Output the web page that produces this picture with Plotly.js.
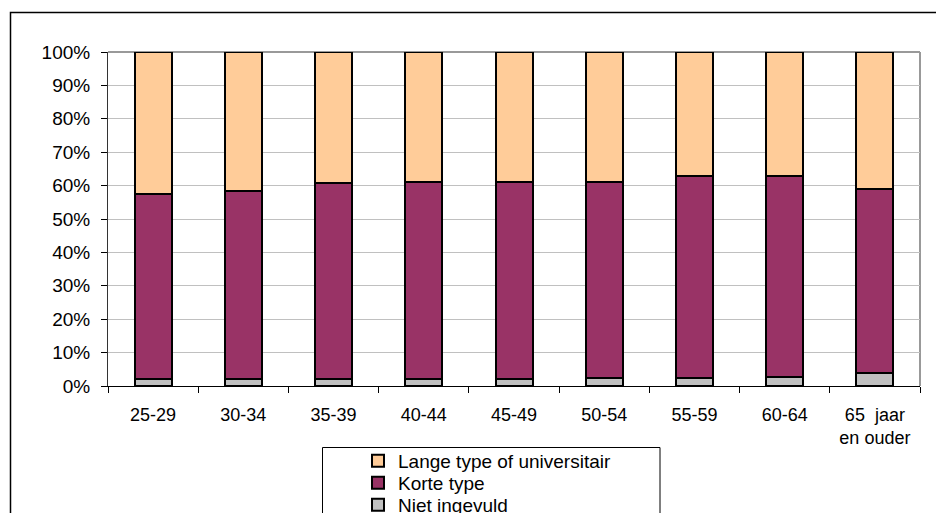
<!DOCTYPE html>
<html>
<head>
<meta charset="utf-8">
<script src="https://cdn.plot.ly/plotly-3.0.1.min.js"></script>
<style>html,body{margin:0;padding:0;background:#fff;}#chart{width:936px;height:513px;}</style>
</head>
<body>
<div id="chart"></div>
<script>
const categories = ["25-29", "30-34", "35-39", "40-44", "45-49", "50-54", "55-59", "60-64", "65\u00a0 jaar<br>en ouder"];
const nietIngevuld = [2.1, 2.1, 2.1, 2.2, 2.2, 2.3, 2.3, 2.6, 3.8];
const korteType = [55.4, 56.2, 58.8, 58.8, 58.8, 58.7, 60.7, 60.3, 55.2];
const langeType = [42.5, 41.7, 39.1, 39.0, 39.0, 39.0, 37.0, 37.1, 41.0];
const seriesNames = ["Niet ingevuld", "Korte type", "Lange type of universitair"];
const seriesColors = ["#C0C0C0", "#993366", "#FFCC99"];

// pixel -> paper helpers (plot area: x 108..920, y 52..386)
const L = 108, R = 920, T = 52, B = 386;
const px = v => (v - L) / (R - L);
const py = v => (B - v) / (B - T);

const seriesData = [nietIngevuld, korteType, langeType];
const legendIds = ["legend3", "legend2", "legend"];
const legendRows = [505, 483, 461];

const traces = seriesData.map((vals, i) => ({
  type: "bar",
  name: seriesNames[i],
  legend: legendIds[i],
  x: categories,
  y: vals,
  marker: {color: seriesColors[i], line: {color: "#000000", width: 2}},
  hoverinfo: "x+y+name"
}));

const legendBase = {
  xanchor: "left", yanchor: "middle",
  bgcolor: "rgba(0,0,0,0)", borderwidth: 0,
  font: {size: 19, color: "#000000", family: "Liberation Sans, Arial, sans-serif"},
  itemwidth: 30
};

const layout = {
  width: 936, height: 513,
  margin: {l: L, r: 936 - R, t: T, b: 513 - B, pad: 0, autoexpand: false},
  paper_bgcolor: "#ffffff",
  plot_bgcolor: "#ffffff",
  barmode: "stack",
  bargap: 0.59,
  font: {family: "Liberation Sans, Arial, sans-serif", color: "#000000", size: 18},
  showlegend: true,
  legend: Object.assign({}, legendBase, {x: px(358), y: py(legendRows[2])}),
  legend2: Object.assign({}, legendBase, {x: px(358), y: py(legendRows[1])}),
  legend3: Object.assign({}, legendBase, {x: px(358), y: py(legendRows[0])}),
  xaxis: {
    type: "category",
    showgrid: false,
    showline: true, linecolor: "#000000", linewidth: 1,
    ticks: "outside", tickson: "boundaries", ticklen: 6, tickcolor: "#000000", tickwidth: 1,
    tickfont: {size: 18},
    ticklabelstandoff: 12,
    automargin: false,
    fixedrange: true
  },
  yaxis: {
    range: [0, 100],
    dtick: 10, tick0: 0,
    ticksuffix: "%",
    showgrid: true, gridcolor: "#C0C0C0", gridwidth: 1,
    zeroline: false,
    showline: true, linecolor: "#333333", linewidth: 1,
    ticks: "outside", ticklen: 6, tickcolor: "#000000", tickwidth: 1,
    tickfont: {size: 19},
    ticklabelstandoff: 7,
    automargin: false,
    fixedrange: true
  },
  shapes: [
    // plot area frame (grey top/right)
    {type: "line", xref: "paper", yref: "paper", x0: 0, x1: 1, y0: 1, y1: 1, line: {color: "#999999", width: 2}, layer: "below"},
    {type: "line", xref: "paper", yref: "paper", x0: 1, x1: 1, y0: 0, y1: 1, line: {color: "#999999", width: 2}, layer: "below"},
    // outer chart border
    {type: "rect", xref: "paper", yref: "paper", x0: px(10.5), x1: px(945), y0: py(530), y1: py(12.5), line: {color: "#000000", width: 1.5}, fillcolor: "rgba(0,0,0,0)"},
    // legend box
    {type: "rect", xref: "paper", yref: "paper", x0: px(322.5), x1: px(660), y0: py(530), y1: py(447.5), line: {color: "#000000", width: 1}, fillcolor: "rgba(0,0,0,0)"}
  ]
};

Plotly.newPlot("chart", traces, layout, {displayModeBar: false, staticPlot: true});
</script>
</body>
</html>
